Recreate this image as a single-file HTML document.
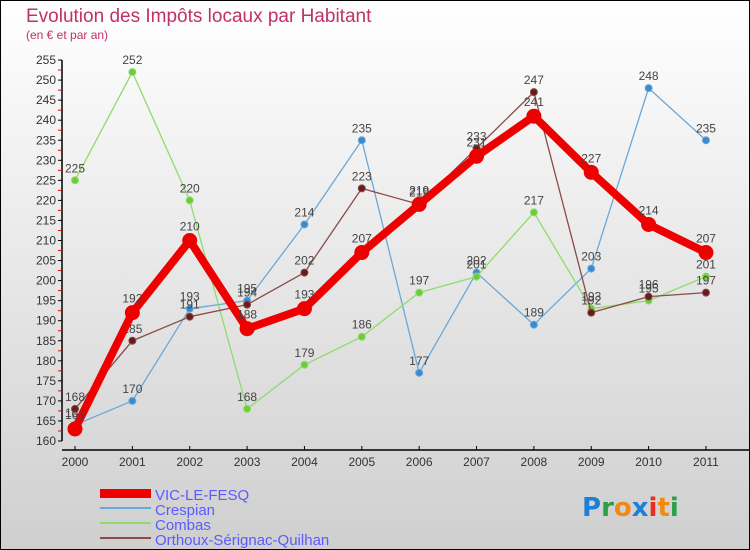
<!DOCTYPE html>
<html><head><meta charset="utf-8"><style>
body{margin:0;width:750px;height:550px;overflow:hidden;font-family:"Liberation Sans",sans-serif}
svg{display:block}
</style></head><body>
<svg id="c" width="750" height="550" xmlns="http://www.w3.org/2000/svg">
<defs><linearGradient id="bg" x1="0" y1="0" x2="0" y2="1"><stop offset="0" stop-color="#ffffff"/><stop offset="1" stop-color="#cfcfcf"/></linearGradient></defs>
<rect x="0.5" y="0.5" width="749" height="549" fill="url(#bg)" stroke="#000"/>
<text x="26" y="22" font-size="19" fill="#c0306a">Evolution des Impôts locaux par Habitant</text>
<text x="26" y="39" font-size="12" fill="#c0306a">(en € et par an)</text>
<g id="axes"></g><g id="series"></g>
<g>
<rect x="100" y="489" width="51" height="9" fill="#e00"/>
<text x="155" y="500" font-size="15" fill="#5b5bff">VIC-LE-FESQ</text>
<line x1="100" y1="508" x2="151" y2="508" stroke="#6aa8d8" stroke-width="2"/>
<text x="155" y="515" font-size="15" fill="#5b5bff">Crespian</text>
<line x1="100" y1="523" x2="151" y2="523" stroke="#8fdc6a" stroke-width="2"/>
<text x="155" y="530" font-size="15" fill="#5b5bff">Combas</text>
<line x1="100" y1="538" x2="151" y2="538" stroke="#8b4a4a" stroke-width="2"/>
<text x="155" y="545" font-size="15" fill="#5b5bff">Orthoux-Sérignac-Quilhan</text>
</g>
<g font-size="26" font-family="'DejaVu Sans',sans-serif" font-weight="bold">
<text x="582" y="516"><tspan fill="#1e7fd8">P</tspan><tspan fill="#2aa048">r</tspan><tspan fill="#f08a10">o</tspan><tspan fill="#1e7fd8">x</tspan><tspan fill="#e83020">i</tspan><tspan fill="#f08a10">t</tspan><tspan fill="#2aa048">i</tspan></text>
</g>
</svg>
<script>
const years=["2000","2001","2002","2003","2004","2005","2006","2007","2008","2009","2010","2011"];
const vic=[163,192,210,188,193,207,219,231,241,227,214,207];
const crespian=[164,170,193,195,214,235,177,202,189,203,248,235];
const combas=[225,252,220,168,179,186,197,201,217,193,195,201];
const orthoux=[168,185,191,194,202,223,219,233,247,192,196,197];
const yTicks=[160,165,170,175,180,185,190,195,200,205,210,215,220,225,230,235,240,245,250,255];
const NS="http://www.w3.org/2000/svg";
const X=i=>75+i*57.36;
const Y=v=>441-(v-160)*4.01;
function mk(t,a,p){const e=document.createElementNS(NS,t);for(const k in a)e.setAttribute(k,a[k]);p.appendChild(e);return e;}
const ax=document.getElementById('axes');
mk('line',{x1:62,y1:Y(255),x2:62,y2:441,stroke:'#000','stroke-width':1.5},ax);
mk('line',{x1:62,y1:450,x2:750,y2:450,stroke:'#000','stroke-width':1.5},ax);
yTicks.forEach(v=>{
 mk('line',{x1:58,y1:Y(v),x2:62,y2:Y(v),stroke:'#000'},ax);
 if(v<255)mk('line',{x1:58,y1:Y(v+2.5),x2:62,y2:Y(v+2.5),stroke:'#e00'},ax);
 const t=mk('text',{x:56,y:Y(v)+4,'font-size':12,fill:'#333','text-anchor':'end'},ax);t.textContent=v;
 
 
});
years.forEach((y,i)=>{
 mk('line',{x1:X(i),y1:446,x2:X(i),y2:450,stroke:'#000'},ax);
 const t=mk('text',{x:X(i),y:466,'font-size':12,fill:'#333','text-anchor':'middle'},ax);t.textContent=y;
 
 
});
const sg=document.getElementById('series');
function draw(data,name,color,w,r,dot,labelDy){
 const g=mk('g',{},sg);
 
 
 mk('polyline',{points:data.map((v,i)=>X(i)+','+Y(v)).join(' '),fill:'none',stroke:color,'stroke-width':w,'stroke-linejoin':'round'},g);
 data.forEach((v,i)=>{
  const c=mk('circle',{cx:X(i),cy:Y(v),r:r,fill:dot,stroke:color,'stroke-width':1},g);
  
  
  const t=mk('text',{x:X(i),y:Y(v)-labelDy,'font-size':12,fill:'#444','text-anchor':'middle'},g);t.textContent=v;
  
  
 });
}
draw(crespian,'crespian','#6aa8d8',1.3,3.5,'#3a8ad0',8);
draw(combas,'combas','#8fdc6a',1.3,3.5,'#6ccc3a',8);
draw(orthoux,'orthoux','#8b4a4a',1.3,3.5,'#6a1a1a',8);
draw(vic,'vic','#e00',8,7,'#e00',10);
</script>
</body></html>
